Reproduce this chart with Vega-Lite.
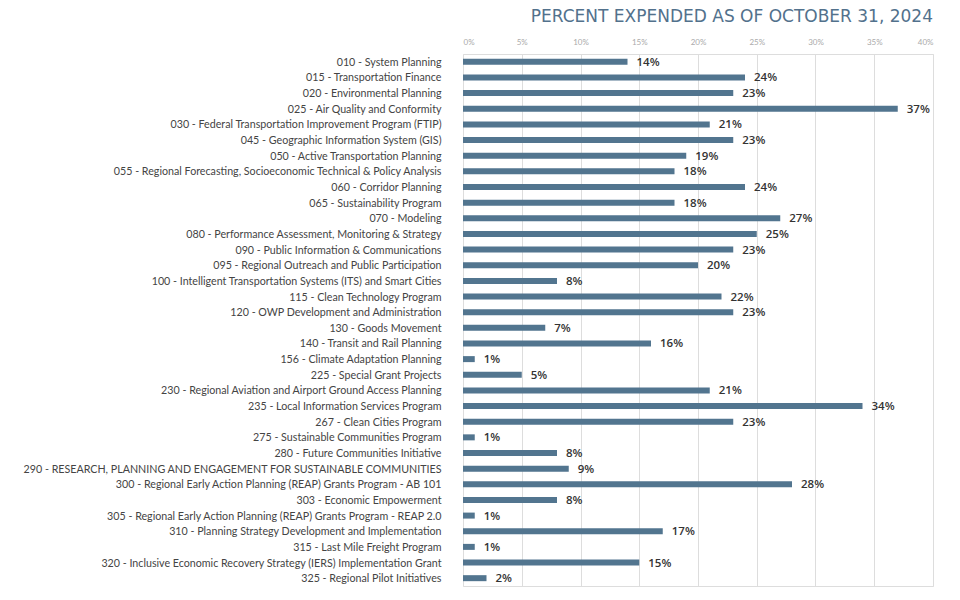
{
  "$schema": "https://vega.github.io/schema/vega-lite/v6.json",
  "autosize": {"type": "none"},
  "padding": {"left": 463, "top": 54, "right": 27, "bottom": 14},
  "width": 470,
  "height": 532,
  "config": {
    "font": "Lato",
    "view": {"stroke": "#dddddd", "strokeWidth": 1}
  },
  "title": {
    "text": "PERCENT EXPENDED AS OF OCTOBER 31, 2024",
    "anchor": "end",
    "fontSize": 17,
    "fontWeight": "normal",
    "color": "#52718c",
    "offset": 12,
    "font": "DejaVu Sans"
  },
  "data": {
    "values": [
      {"task": "010 - System Planning", "pct": 0.14},
      {"task": "015 - Transportation Finance", "pct": 0.24},
      {"task": "020 - Environmental Planning", "pct": 0.23},
      {"task": "025 - Air Quality and Conformity", "pct": 0.37},
      {"task": "030 - Federal Transportation Improvement Program (FTIP)", "pct": 0.21},
      {"task": "045 - Geographic Information System (GIS)", "pct": 0.23},
      {"task": "050 - Active Transportation Planning", "pct": 0.19},
      {"task": "055 - Regional Forecasting, Socioeconomic Technical & Policy Analysis", "pct": 0.18},
      {"task": "060 - Corridor Planning", "pct": 0.24},
      {"task": "065 - Sustainability Program", "pct": 0.18},
      {"task": "070 - Modeling", "pct": 0.27},
      {"task": "080 - Performance Assessment, Monitoring & Strategy", "pct": 0.25},
      {"task": "090 - Public Information & Communications", "pct": 0.23},
      {"task": "095 - Regional Outreach and Public Participation", "pct": 0.20},
      {"task": "100 - Intelligent Transportation Systems (ITS) and Smart Cities", "pct": 0.08},
      {"task": "115 - Clean Technology Program", "pct": 0.22},
      {"task": "120 - OWP Development and Administration", "pct": 0.23},
      {"task": "130 - Goods Movement", "pct": 0.07},
      {"task": "140 - Transit and Rail Planning", "pct": 0.16},
      {"task": "156 - Climate Adaptation Planning", "pct": 0.01},
      {"task": "225 - Special Grant Projects", "pct": 0.05},
      {"task": "230 - Regional Aviation and Airport Ground Access Planning", "pct": 0.21},
      {"task": "235 - Local Information Services Program", "pct": 0.34},
      {"task": "267 - Clean Cities Program", "pct": 0.23},
      {"task": "275 - Sustainable Communities Program", "pct": 0.01},
      {"task": "280 - Future Communities Initiative", "pct": 0.08},
      {"task": "290 - RESEARCH, PLANNING AND ENGAGEMENT FOR SUSTAINABLE COMMUNITIES", "pct": 0.09},
      {"task": "300 - Regional Early Action Planning (REAP) Grants Program - AB 101", "pct": 0.28},
      {"task": "303 - Economic Empowerment", "pct": 0.08},
      {"task": "305 - Regional Early Action Planning (REAP) Grants Program - REAP 2.0", "pct": 0.01},
      {"task": "310 - Planning Strategy Development and Implementation", "pct": 0.17},
      {"task": "315 - Last Mile Freight Program", "pct": 0.01},
      {"task": "320 - Inclusive Economic Recovery Strategy (IERS) Implementation Grant", "pct": 0.15},
      {"task": "325 - Regional Pilot Initiatives", "pct": 0.02}
    ]
  },
  "encoding": {
    "y": {
      "field": "task",
      "type": "nominal",
      "sort": null,
      "title": null,
      "scale": {"paddingInner": 0.6, "paddingOuter": 0.3},
      "axis": {
        "domain": false,
        "ticks": false,
        "labelPadding": 22,
        "labelFontSize": 10.7,
        "labelColor": "#444444",
        "labelLimit": 0,
        "labelFont": "Lato",
        "labelOffset": 1
      }
    },
    "x": {
      "field": "pct",
      "type": "quantitative",
      "title": null,
      "scale": {"domain": [0, 0.4], "nice": false},
      "axis": {
        "orient": "top",
        "format": ".0%",
        "values": [0, 0.05, 0.1, 0.15, 0.2, 0.25, 0.3, 0.35, 0.4],
        "domain": false,
        "ticks": false,
        "labelPadding": 8,
        "labelFontSize": 8,
        "labelColor": "#aaaaaa",
        "gridColor": "#dddddd",
        "gridWidth": 1
      }
    }
  },
  "layer": [
    {
      "mark": {"type": "bar", "color": "#52758f", "height": 6}
    },
    {
      "mark": {"type": "text", "align": "left", "dx": 9, "fontSize": 11.5, "fontWeight": 600, "font": "Open Sans", "color": "#333333", "baseline": "middle", "dy": 1},
      "encoding": {
        "text": {"field": "pct", "type": "quantitative", "format": ".0%"}
      }
    }
  ]
}
